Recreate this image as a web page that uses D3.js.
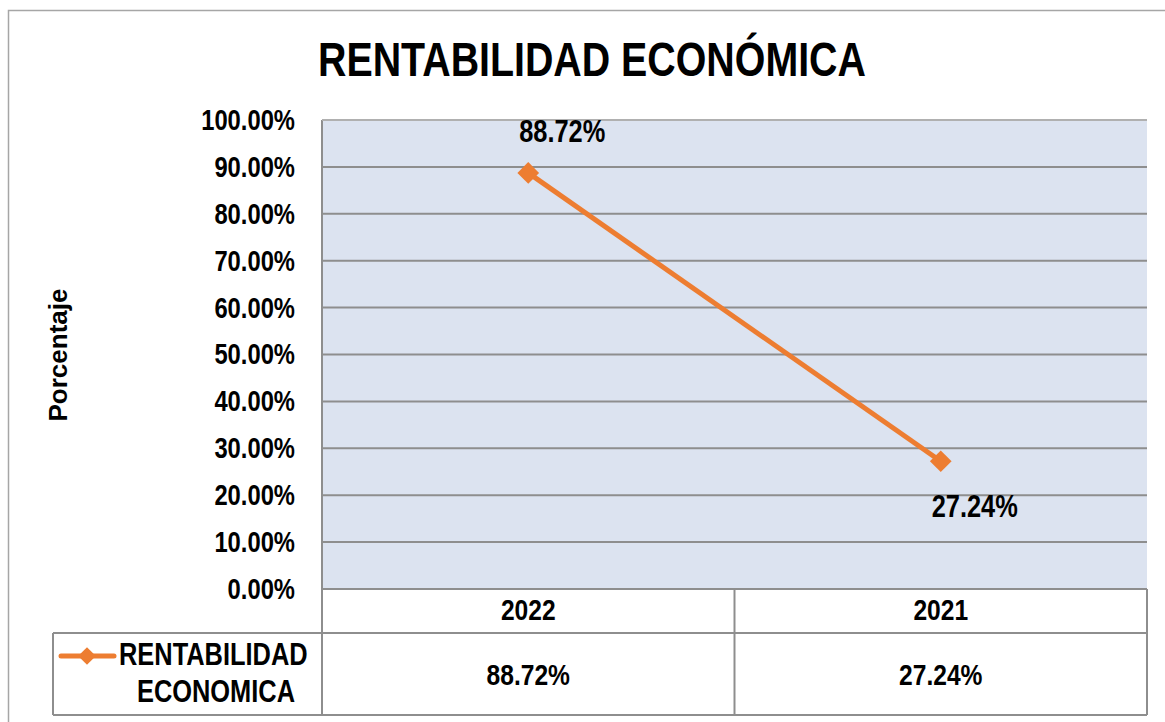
<!DOCTYPE html>
<html>
<head>
<meta charset="utf-8">
<script src="https://cdn.jsdelivr.net/npm/d3@7"></script>
<style>
  body { margin: 0; background: #fff; }
  svg text { font-family: "Liberation Sans", Arial, sans-serif; font-weight: bold; fill: #000; }
</style>
</head>
<body>
<svg id="chart"></svg>
<script>
const years = ["2022", "2021"];
const values = [88.72, 27.24];
const yTicks = [0, 10, 20, 30, 40, 50, 60, 70, 80, 90, 100];
const seriesName = ["RENTABILIDAD", "ECONOMICA"];
const title = "RENTABILIDAD ECONÓMICA";

const width = 1165;
const height = 722;
const plot = { left: 322, right: 1147, top: 120, bottom: 589 };
const tableRow1 = 633, tableBottom = 715, legendLeft = 53;
const orange = "#ed7d31";
const gridColor = "#8e8e8e";

// no Arial Narrow available, so squeeze Liberation Sans horizontally
function narrow(sel, origin) {
  return sel
    .style("transform-box", "fill-box")
    .style("transform-origin", origin)
    .style("transform", "scaleX(0.82)");
}

const svg = d3.select("#chart")
  .attr("width", width)
  .attr("height", height);

// outer chart frame
svg.append("rect")
  .attr("x", 8.5).attr("y", 10.5)
  .attr("width", width).attr("height", height)
  .attr("fill", "none").attr("stroke", "#a6a6a6").attr("stroke-width", 1.5);

svg.append("text")
  .attr("x", 592).attr("y", 76)
  .attr("text-anchor", "middle")
  .style("font-size", "48px")
  .text(title)
  .call(narrow, "center");

const xScale = d3.scaleBand()
  .domain(years)
  .range([plot.left, plot.right]);

const yScale = d3.scaleLinear()
  .domain([0, 100])
  .range([plot.bottom, plot.top]);

// plot background
svg.append("rect")
  .attr("x", plot.left).attr("y", plot.top)
  .attr("width", plot.right - plot.left)
  .attr("height", plot.bottom - plot.top)
  .attr("fill", "#dce3f0");

// gridlines
svg.append("g")
  .selectAll("line")
  .data(yTicks)
  .join("line")
  .attr("x1", plot.left).attr("x2", plot.right)
  .attr("y1", d => yScale(d)).attr("y2", d => yScale(d))
  .attr("stroke", gridColor).attr("stroke-width", 2);

// y tick labels
svg.append("g")
  .selectAll("text")
  .data(yTicks)
  .join("text")
  .attr("x", 295)
  .attr("y", d => yScale(d) + 10)
  .attr("text-anchor", "end")
  .style("font-size", "29px")
  .text(d => d.toFixed(2) + "%")
  .call(narrow, "right");

svg.append("text")
  .attr("transform", "rotate(-90)")
  .attr("x", -355).attr("y", 67)
  .attr("text-anchor", "middle")
  .style("font-size", "26px")
  .text("Porcentaje");

// data table lines
const tbl = svg.append("g").attr("stroke", gridColor).attr("stroke-width", 2);
tbl.append("line").attr("x1", plot.left).attr("x2", plot.left).attr("y1", plot.top).attr("y2", tableBottom);
tbl.append("line").attr("x1", plot.right).attr("x2", plot.right).attr("y1", plot.bottom).attr("y2", tableBottom);
tbl.append("line").attr("x1", xScale("2021")).attr("x2", xScale("2021")).attr("y1", plot.bottom).attr("y2", tableBottom);
tbl.append("line").attr("x1", legendLeft).attr("x2", plot.right).attr("y1", tableRow1).attr("y2", tableRow1);
tbl.append("line").attr("x1", legendLeft).attr("x2", plot.right).attr("y1", tableBottom).attr("y2", tableBottom);
tbl.append("line").attr("x1", legendLeft).attr("x2", legendLeft).attr("y1", tableRow1).attr("y2", tableBottom);
svg.append("line").attr("x1", plot.left).attr("x2", plot.right).attr("y1", plot.top).attr("y2", plot.top)
  .attr("stroke", "#b0b0b0").attr("stroke-width", 2);

// table text
svg.append("g")
  .selectAll("text")
  .data(years)
  .join("text")
  .attr("x", d => xScale(d) + xScale.bandwidth() / 2)
  .attr("y", 620)
  .attr("text-anchor", "middle")
  .style("font-size", "30px")
  .text(d => d)
  .call(narrow, "center");

svg.append("g")
  .selectAll("text")
  .data(values)
  .join("text")
  .attr("x", (d, i) => xScale(years[i]) + xScale.bandwidth() / 2)
  .attr("y", 685)
  .attr("text-anchor", "middle")
  .style("font-size", "30px")
  .text(d => d.toFixed(2) + "%")
  .call(narrow, "center");

// legend key
svg.append("line")
  .attr("x1", 61).attr("x2", 114).attr("y1", 656).attr("y2", 656)
  .attr("stroke", orange).attr("stroke-width", 5).attr("stroke-linecap", "round");
svg.append("path")
  .attr("d", d3.symbol(d3.symbolDiamond2, 200)())
  .attr("transform", "translate(87,656)")
  .attr("fill", orange);
svg.append("text")
  .attr("x", 119).attr("y", 665)
  .style("font-size", "31px")
  .text(seriesName[0])
  .call(narrow, "left");
svg.append("text")
  .attr("x", 216).attr("y", 702)
  .attr("text-anchor", "middle")
  .style("font-size", "31px")
  .text(seriesName[1])
  .call(narrow, "center");

// series line
const pts = years.map((y, i) => [xScale(y) + xScale.bandwidth() / 2, yScale(values[i])]);
svg.append("path")
  .datum(pts)
  .attr("d", d3.line())
  .attr("fill", "none")
  .attr("stroke", orange)
  .attr("stroke-width", 5);

svg.append("g")
  .selectAll("path")
  .data(pts)
  .join("path")
  .attr("d", d3.symbol(d3.symbolDiamond2, 300)())
  .attr("transform", d => `translate(${d[0]},${d[1]})`)
  .attr("fill", orange);

// data labels
const labelOffsets = [-31, 56];
svg.append("g")
  .selectAll("text")
  .data(values)
  .join("text")
  .attr("x", (d, i) => pts[i][0] + 34)
  .attr("y", (d, i) => pts[i][1] + labelOffsets[i])
  .attr("text-anchor", "middle")
  .style("font-size", "31px")
  .text(d => d.toFixed(2) + "%")
  .call(narrow, "center");
</script>
</body>
</html>
